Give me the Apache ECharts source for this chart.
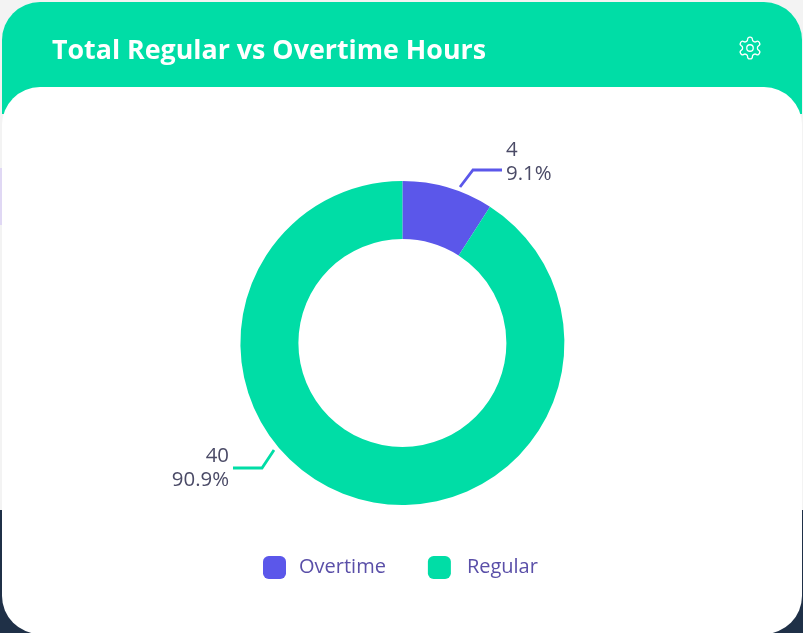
<!DOCTYPE html>
<html><head><meta charset="utf-8">
<style>html,body{margin:0;padding:0;width:803px;height:633px;overflow:hidden;background:#f3f3f3}#c{width:803px;height:633px}
#gear{position:absolute;left:737px;top:35px;width:26px;height:26px;fill:none;stroke:#fff;stroke-width:1.2}</style>
<script src="https://cdn.jsdelivr.net/npm/echarts@6/dist/echarts.min.js"></script>
</head><body><div id="c"></div>
<svg id="gear" viewBox="0 0 24 24"><path d="M12.22 2h-.44a2 2 0 0 0-2 2v.18a2 2 0 0 1-1 1.73l-.43.25a2 2 0 0 1-2 0l-.15-.08a2 2 0 0 0-2.73.73l-.22.38a2 2 0 0 0 .73 2.73l.15.1a2 2 0 0 1 1 1.72v.51a2 2 0 0 1-1 1.74l-.15.09a2 2 0 0 0-.73 2.73l.22.38a2 2 0 0 0 2.73.73l.15-.08a2 2 0 0 1 2 0l.43.25a2 2 0 0 1 1 1.73V20a2 2 0 0 0 2 2h.44a2 2 0 0 0 2-2v-.18a2 2 0 0 1 1-1.73l.43-.25a2 2 0 0 1 2 0l.15.08a2 2 0 0 0 2.73-.73l.22-.39a2 2 0 0 0-.73-2.73l-.15-.08a2 2 0 0 1-1-1.74v-.5a2 2 0 0 1 1-1.74l.15-.09a2 2 0 0 0 .73-2.73l-.22-.38a2 2 0 0 0-2.73-.73l-.15.08a2 2 0 0 1-2 0l-.43-.25a2 2 0 0 1-1-1.73V4a2 2 0 0 0-2-2z"/><circle cx="12" cy="12" r="3"/></svg>
<script>
const categories = ['Overtime', 'Regular'];
const hours = [4, 40];
const colors = ['#5B57EA', '#00DDA6'];
const titleText = 'Total Regular vs Overtime Hours';
const FONT = '"Open Sans", "Noto Sans", sans-serif';
const GREEN = '#00DDA6';
const calloutLayouts = [
  {x: 506, y: 162, align: 'left', verticalAlign: 'middle',
   labelLinePoints: [[460, 187], [473, 170], [502, 170]]},
  {x: 229, y: 468, align: 'right', verticalAlign: 'middle',
   labelLinePoints: [[274, 450], [262, 468], [233, 468]]}
];
const chart = echarts.init(document.getElementById('c'), null, {renderer: 'canvas', width: 803, height: 633});
chart.setOption({
  animation: false,
  backgroundColor: '#f3f3f3',
  color: colors,
  title: {text: titleText, left: 47, top: 33, textStyle: {color: '#fff', fontFamily: FONT, fontSize: 26.8, fontWeight: 700}},
  legend: {
    data: [
      {name: categories[0], textStyle: {padding: [0, 0, 0, 8]}},
      {name: categories[1], textStyle: {padding: [0, 0, 0, 11]}}
    ],
    left: 263, top: 556, padding: 0, itemWidth: 23, itemHeight: 23, itemGap: 42, icon: 'roundRect',
    textStyle: {color: '#5A4FA8', fontFamily: FONT, fontSize: 20}
  },
  graphic: [
    {type: 'rect', z: -10, silent: true, shape: {x: 0, y: 510, width: 803, height: 123}, style: {fill: '#1F3047'}},
    {type: 'rect', z: -10, silent: true, shape: {x: 0, y: 168, width: 2, height: 57}, style: {fill: '#E0D8F4'}},
    {type: 'rect', z: -9, silent: true, shape: {x: 2, y: 2, width: 800, height: 112, r: [38, 38, 0, 0]}, style: {fill: GREEN}},
    {type: 'rect', z: -8, silent: true, shape: {x: 2, y: 87, width: 800, height: 547, r: 38}, style: {fill: '#fff'}}
  ],
  series: [{
    type: 'pie', center: [402.4, 343], radius: [104, 162], startAngle: 90, clockwise: true, percentPrecision: 1,
    data: categories.map((n, i) => ({name: n, value: hours[i]})),
    itemStyle: {borderWidth: 0},
    label: {show: true, position: 'outside', formatter: '{c}\n{d}%', color: '#4A4A66', fontFamily: FONT, fontSize: 20.4, lineHeight: 24},
    labelLine: {show: true, length: 18, length2: 30, smooth: false, lineStyle: {width: 2.8}},
    labelLayout: p => calloutLayouts[p.dataIndex]
  }]
});
</script></body></html>
